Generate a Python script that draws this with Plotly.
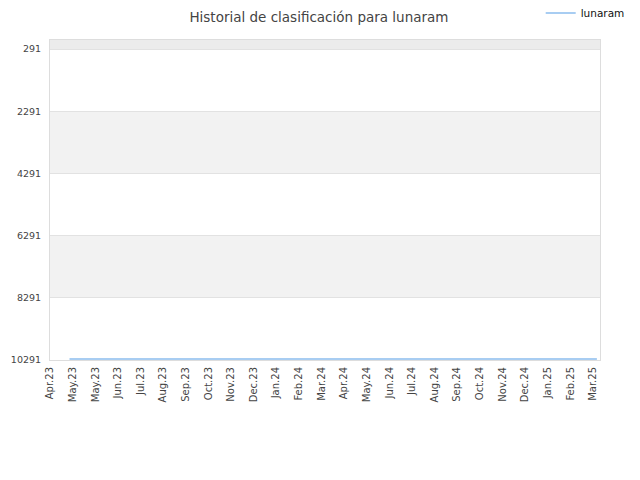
import plotly.graph_objs as go

# ranking history (lower is better, axis reversed)
dates = ['2023-05-22', '2023-07-01', '2023-09-01', '2023-11-01', '2024-01-01',
         '2024-03-01', '2024-05-01', '2024-07-01', '2024-09-01', '2024-11-01',
         '2025-01-01', '2025-03-28']
ranks = [10255, 10255, 10255, 10255, 10255, 10255, 10255, 10255, 10255, 10255, 10255, 10255]

tick_dates = ['2023-04-27', '2023-05-26', '2023-06-24', '2023-07-23', '2023-08-21', '2023-09-19',
              '2023-10-18', '2023-11-16', '2023-12-15', '2024-01-13', '2024-02-11', '2024-03-11',
              '2024-04-09', '2024-05-08', '2024-06-06', '2024-07-05', '2024-08-03', '2024-09-01',
              '2024-09-30', '2024-10-29', '2024-11-27', '2024-12-26', '2025-01-24', '2025-02-22',
              '2025-03-23']
tick_labels = ['Apr.23', 'May.23', 'May.23', 'Jun.23', 'Jul.23', 'Aug.23', 'Sep.23', 'Oct.23',
               'Nov.23', 'Dec.23', 'Jan.24', 'Feb.24', 'Mar.24', 'Apr.24', 'May.24', 'Jun.24',
               'Jul.24', 'Aug.24', 'Sep.24', 'Oct.24', 'Nov.24', 'Dec.24', 'Jan.25', 'Feb.25', 'Mar.25']
y_ticks = [291, 2291, 4291, 6291, 8291, 10291]

fig = go.Figure()
fig.add_trace(go.Scatter(x=dates, y=ranks, mode='lines', name='lunaram',
                         line=dict(color='#a8cdf2', width=2)))

# alternating bands
bands = [(0, 291, '#ececec'), (2291, 4291, '#f2f2f2'), (6291, 8291, '#f2f2f2')]
for y0, y1, c in bands:
    fig.add_shape(type='rect', xref='paper', yref='y', x0=0, x1=1, y0=y0, y1=y1,
                  fillcolor=c, line=dict(width=0), layer='below')

# page body adds 8px, so figure is 632x472
fig.update_layout(
    width=632, height=472,
    margin=dict(l=42, r=40, t=32, b=120, autoexpand=False),
    paper_bgcolor='white', plot_bgcolor='white',
    font=dict(family='DejaVu Sans', size=10, color='#444'),
    title=dict(text='Historial de clasificación para lunaram', x=0.492, xanchor='center',
               yref='container', y=0.981, yanchor='middle', font=dict(size=13.5, color='#444')),
    showlegend=True,
    legend=dict(x=1.054, xanchor='right', y=1.13, yanchor='top', font=dict(size=10.5, color='#111'),
                bgcolor='rgba(0,0,0,0)'),
)
fig.update_xaxes(type='date', range=['2023-04-27', '2025-04-01'], tickvals=tick_dates,
                 ticktext=tick_labels, tickangle=-90, showgrid=False, zeroline=False,
                 showline=True, linecolor='#dddddd', mirror=True, ticks='', tickfont=dict(size=10),
                 ticklabelstandoff=2, automargin=False)
fig.update_yaxes(range=[10291, 0], tickvals=y_ticks, ticktext=[str(v) for v in y_ticks],
                 showgrid=True, gridcolor='#e2e2e2', zeroline=False, showline=True,
                 linecolor='#dddddd', mirror=True, ticks='', tickfont=dict(size=9.5),
                 ticklabelstandoff=6, automargin=False)

fig.write_html("out.html")
